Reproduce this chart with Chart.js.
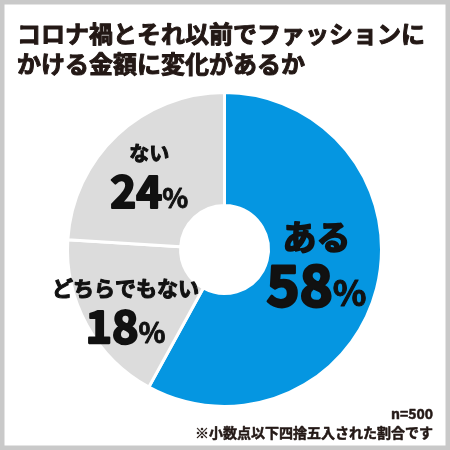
<!DOCTYPE html>
<html>
<head>
<meta charset="utf-8">
<script src="https://cdn.jsdelivr.net/npm/chart.js@4/dist/chart.umd.min.js"></script>
<style>
  html, body { margin: 0; padding: 0; background: #fff; }
  #wrap { width: 450px; height: 450px; }
</style>
</head>
<body>
<div id="wrap"><canvas id="chart" width="450" height="450"></canvas></div>
<script>
// data
const categories = ['ある', 'どちらでもない', 'ない'];
const shares = [58, 18, 24];
const titleLines = ['コロナ禍とそれ以前でファッションに', 'かける金額に変化があるか'];
const notes = ['n=500', '※小数点以下四捨五入された割合です'];

const JP = '"Noto Sans CJK JP", "Noto Sans", sans-serif';

// label placement per slice: distance from centre, nudge, font sizes
const labelStyle = [
  { r: 95, dx: 0, dy: -16, name: 34, num: 56 },
  { r: 113, dx: 0, dy: 0, name: 21, num: 45 },
  { r: 110, dx: 0, dy: 0, name: 20, num: 44 }
];

// bold text with a thin outline so it reads as heavy as the original
function heavyText(ctx, text, x, y, w) {
  ctx.lineWidth = w;
  ctx.lineJoin = 'round';
  ctx.strokeStyle = ctx.fillStyle;
  ctx.strokeText(text, x, y);
  ctx.fillText(text, x, y);
}

const decorations = {
  id: 'decorations',
  afterDraw(chart) {
    const ctx = chart.ctx;
    ctx.save();

    // frame
    ctx.strokeStyle = '#c9c9c9';
    ctx.lineWidth = 4.5;
    ctx.strokeRect(2.25, 2.25, 450 - 4.5, 450 - 4.5);

    // title
    ctx.fillStyle = '#231815';
    ctx.textAlign = 'left';
    ctx.textBaseline = 'middle';
    ctx.font = 'bold 24px ' + JP;
    heavyText(ctx, titleLines[0], 17, 34, 1);
    heavyText(ctx, titleLines[1], 17, 64, 1);

    // notes
    ctx.textAlign = 'right';
    ctx.font = 'bold 14px ' + JP;
    heavyText(ctx, notes[0], 433, 414, 0.5);
    heavyText(ctx, notes[1], 433, 433, 0.5);

    // slice labels
    const arcs = chart.getDatasetMeta(0).data;
    arcs.forEach((arc, i) => {
      const p = arc.getProps(['x', 'y', 'startAngle', 'endAngle']);
      const mid = (p.startAngle + p.endAngle) / 2;
      const st = labelStyle[i];
      const ax = p.x + Math.cos(mid) * st.r + st.dx;
      const ay = p.y + Math.sin(mid) * st.r + st.dy;

      ctx.fillStyle = '#111';
      ctx.textAlign = 'center';
      ctx.textBaseline = 'middle';
      ctx.font = 'bold ' + st.name + 'px ' + JP;
      heavyText(ctx, categories[i], ax, ay - st.num * 0.36, st.name * 0.05);

      const digits = String(shares[i]);
      const pctSize = Math.round(st.num * 0.62);
      ctx.font = 'bold ' + st.num + 'px ' + JP;
      const wd = ctx.measureText(digits).width;
      ctx.font = 'bold ' + pctSize + 'px ' + JP;
      const wp = ctx.measureText('%').width;
      const x0 = ax - (wd + wp) / 2;
      const base = ay + st.num * 0.87;
      ctx.textAlign = 'left';
      ctx.textBaseline = 'alphabetic';
      ctx.font = 'bold ' + st.num + 'px ' + JP;
      heavyText(ctx, digits, x0, base, st.num * 0.05);
      ctx.font = 'bold ' + pctSize + 'px ' + JP;
      heavyText(ctx, '%', x0 + wd, base, pctSize * 0.03);
    });

    ctx.restore();
  }
};

new Chart(document.getElementById('chart'), {
  type: 'doughnut',
  data: {
    labels: categories,
    datasets: [{
      data: shares,
      backgroundColor: ['#0596e1', '#dcdcdc', '#dcdcdc'],
      borderColor: '#ffffff',
      borderWidth: 3
    }]
  },
  options: {
    responsive: false,
    animation: false,
    cutout: '28%',
    layout: { padding: { left: 66, right: 67, top: 91, bottom: 42 } },
    plugins: {
      legend: { display: false },
      tooltip: { enabled: false },
      title: { display: false }
    }
  },
  plugins: [decorations]
});
</script>
</body>
</html>
